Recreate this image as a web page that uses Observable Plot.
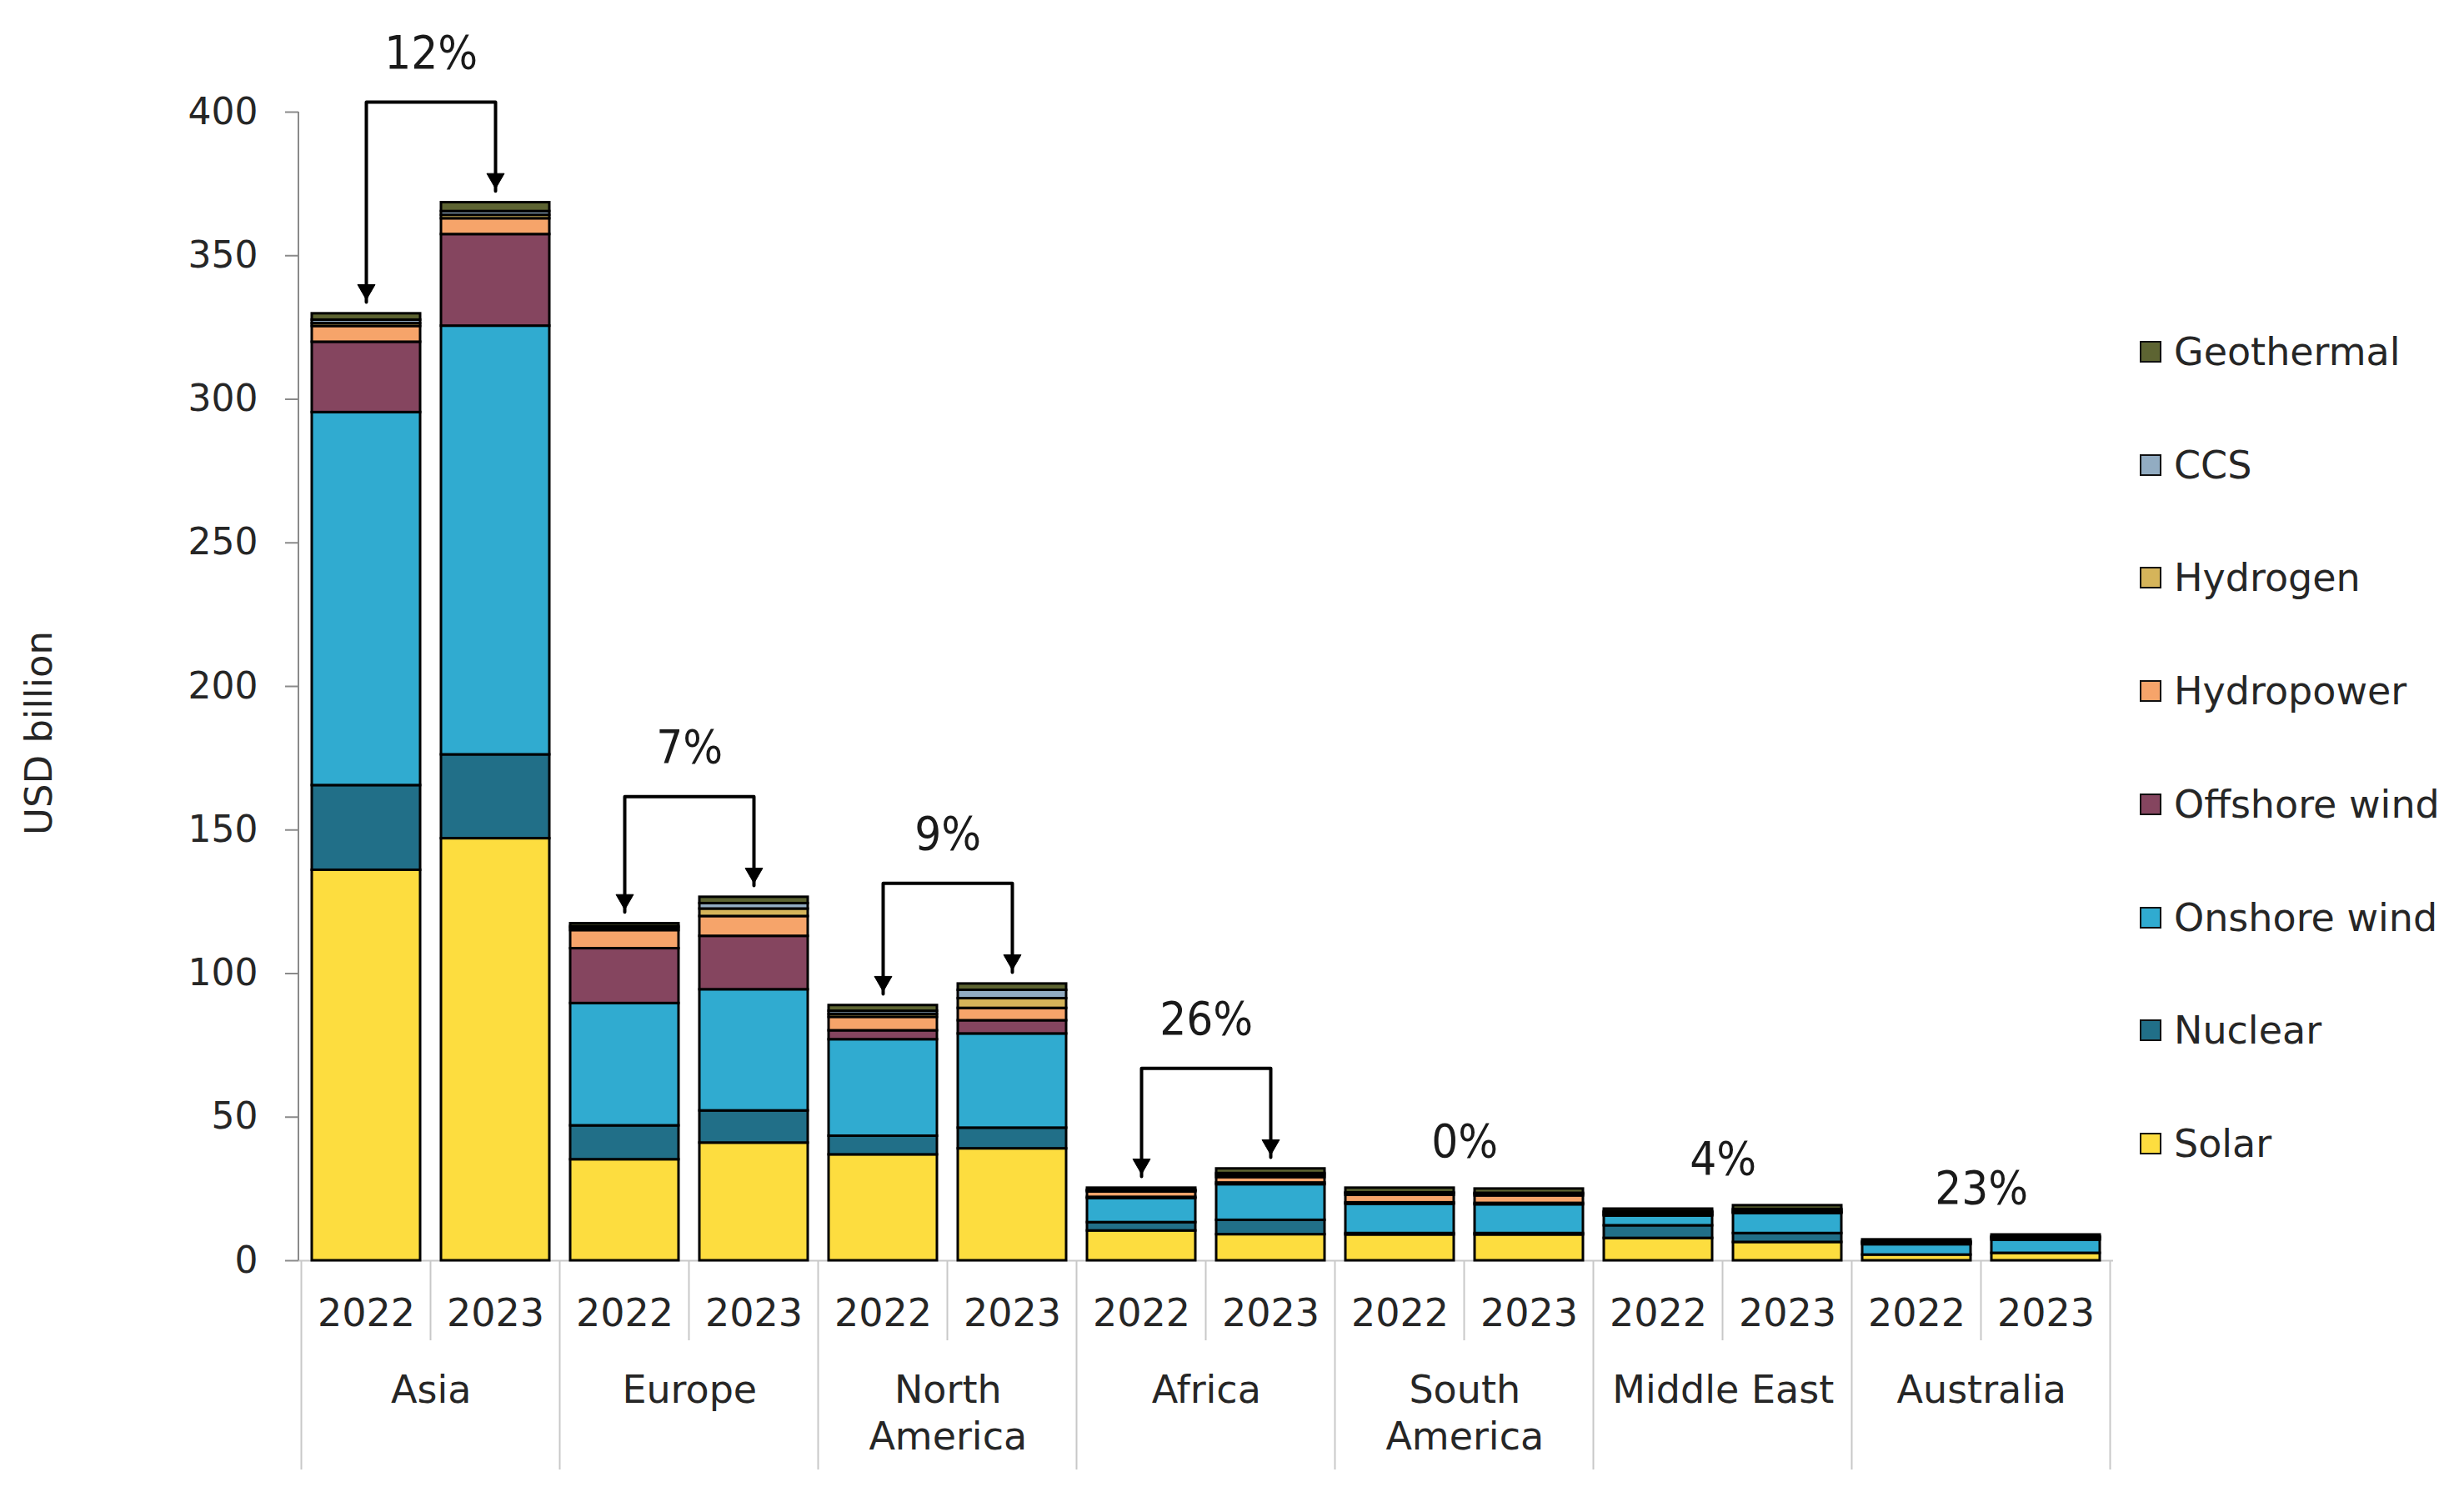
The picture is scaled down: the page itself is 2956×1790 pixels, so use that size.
<!DOCTYPE html>
<html><head><meta charset="utf-8">
<script src="https://cdn.jsdelivr.net/npm/d3@7"></script>
<script src="https://cdn.jsdelivr.net/npm/@observablehq/plot@0.6"></script>
<style>
html,body{margin:0;padding:0;background:#fff;}
#wrap{position:relative;width:2956px;height:1790px;font-family:"DejaVu Sans",sans-serif;color:#262626;}
#legend{position:absolute;left:2567px;top:0;}
.item{position:absolute;left:0;display:flex;align-items:center;white-space:nowrap;font-size:46px;transform:translateY(-50%);}
.sw{width:22px;height:22px;border:2.5px solid #111;margin-right:15px;}
</style></head><body>
<div id="wrap"><div id="chart"></div><div id="legend"></div></div>
<script>
// ---------------- data ----------------
const regions = ["Asia", "Europe", "North America", "Africa", "South America", "Middle East", "Australia"];
const regionLabels = ["Asia", "Europe", "North\nAmerica", "Africa", "South\nAmerica", "Middle East", "Australia"];
const years = ["2022", "2023"];
const techs = ["Solar", "Nuclear", "Onshore wind", "Offshore wind", "Hydropower", "Hydrogen", "CCS", "Geothermal"];
const techColors = ["#fddd3f", "#216f88", "#30abd0", "#85455f", "#f6a46a", "#d5b45a", "#92acc2", "#5d6432"];
// order: Asia22, Asia23, Europe22, Europe23, NAm22, NAm23, Africa22, Africa23, SAm22, SAm23, ME22, ME23, Aus22, Aus23
const solar    = [136.0, 147.0, 35.2, 41.0, 36.9, 39.0, 10.4, 9.1, 9.0, 9.0, 7.8, 6.4, 2.0, 2.6];
const nuclear  = [29.5, 29.2, 11.8, 11.2, 6.5, 7.2, 2.9, 5.0, 0.5, 0.5, 4.4, 3.1, 0, 0];
const onshore  = [129.9, 149.3, 42.6, 42.2, 33.6, 32.8, 8.4, 12.4, 10.2, 10.0, 3.4, 7.0, 3.6, 4.6];
const offshore = [24.5, 31.9, 19.1, 18.6, 3.1, 4.6, 0.4, 0.6, 0.5, 0.5, 0.3, 0.2, 0, 0];
const hydro    = [5.5, 5.5, 6.3, 6.9, 4.7, 4.3, 1.9, 1.9, 2.6, 2.6, 0.4, 0.3, 0.4, 0.4];
const hydrogen = [1.0, 1.2, 0.8, 2.6, 1.0, 3.4, 0.3, 0.8, 0.6, 0.6, 0.5, 0.5, 0.4, 0.5];
const ccs      = [1.2, 1.3, 0.6, 1.9, 1.1, 2.9, 0.3, 0.6, 0.3, 0.3, 0.3, 0.4, 0.2, 0.2];
const geo      = [2.2, 3.1, 1.0, 2.2, 2.0, 2.2, 0.7, 1.6, 1.6, 1.5, 0.9, 1.3, 0.7, 0.7];
const growthLabels = ["12%", "7%", "9%", "26%", "0%", "4%", "23%"];
const hasArrow = [true, true, true, true, false, false, false];
const yTicks = [0, 50, 100, 150, 200, 250, 300, 350, 400];

// ---------------- build ----------------
const series = [solar, nuclear, onshore, offshore, hydro, hydrogen, ccs, geo];
const bars = [];
regions.forEach((r, i) => years.forEach((y, j) => bars.push({key: r + "|" + y, region: r, year: y, idx: 2 * i + j})));
const keys = bars.map(d => d.key);
const rows = [];
bars.forEach(b => techs.forEach((t, ti) => rows.push({key: b.key, tech: t, value: series[ti][b.idx]})));
const totals = bars.map(b => d3.sum(series, s => s[b.idx]));

const W = 2956, H = 1790, ML = 358, MR = 421, MT = 134, MB = 278;
const step = (W - ML - MR) / keys.length;

const annots = regions.map((r, i) => {
  const t0 = totals[2 * i], t1 = totals[2 * i + 1];
  const top = Math.max(t0, t1);
  const bracket = top + 35;
  return {region: r, k0: keys[2 * i], k1: keys[2 * i + 1], t0, t1, bracket,
          label: growthLabels[i], arrow: hasArrow[i], labelY: hasArrow[i] ? bracket + 17 : top + 16};
});
const arrowPts = [], tips = [];
annots.filter(a => a.arrow).forEach(a => {
  arrowPts.push({region: a.region, x: a.k0, y: a.t0 + 4});
  arrowPts.push({region: a.region, x: a.k0, y: a.bracket});
  arrowPts.push({region: a.region, x: a.k1, y: a.bracket});
  arrowPts.push({region: a.region, x: a.k1, y: a.t1 + 4});
  tips.push({x: a.k0, y: a.t0 + 4});
  tips.push({x: a.k1, y: a.t1 + 4});
});

const chart = Plot.plot({
  width: W, height: H,
  marginLeft: ML, marginRight: MR, marginTop: MT, marginBottom: MB,
  style: {fontSize: "44px", fontFamily: "'DejaVu Sans', sans-serif", color: "#262626", background: "#fff", overflow: "visible"},
  x: {type: "band", domain: keys, paddingInner: 0.164, paddingOuter: 0.082, axis: null},
  y: {domain: [0, 400], ticks: yTicks, tickSize: 16, tickPadding: 33, label: null, tickFormat: d => String(d)},
  color: {domain: techs, range: techColors},
  marks: [
    Plot.ruleY([0], {stroke: "#c8c8c8", strokeWidth: 2}),
    Plot.barY(rows, {x: "key", y: "value", fill: "tech", stroke: "#000", strokeWidth: 3}),
    Plot.line(arrowPts, {x: "x", y: "y", z: "region", stroke: "#000", strokeWidth: 4, curve: "linear"}),
    Plot.dot(tips, {x: "x", y: "y", symbol: "triangle2", r: 10, rotate: 180, fill: "#000", stroke: "#000", strokeWidth: 1, dy: -15}),
    Plot.text(annots, {x: "k0", y: "labelY", text: "label", dx: step / 2, fontSize: 56,
      fontFamily: "'Liberation Sans Narrow', 'DejaVu Sans Condensed', sans-serif", fill: "#1a1a1a"}),
    Plot.text(bars, {x: "key", text: "year", frameAnchor: "bottom", dy: 78, fontSize: 46, fill: "#262626"}),
    Plot.text(annots.map((a, i) => ({...a, name: regionLabels[i]})), {x: "k0", text: "name", dx: step / 2,
      frameAnchor: "bottom", lineAnchor: "top", dy: 131, lineHeight: 1.22, fontSize: 46, fill: "#262626"}),
    Plot.text(["USD billion"], {frameAnchor: "left", textAnchor: "middle", rotate: -90, dx: -311, dy: 56, fontSize: 45, fill: "#262626"})
  ]
});
document.getElementById("chart").appendChild(chart);

// axis line + category separators, positioned from the plot's own x scale
const xs = chart.scale("x");
const svg = d3.select(chart);
svg.selectAll('[aria-label="y-axis tick"] path, [aria-label="y-axis tick"]').attr("stroke", "#8a8a8a").attr("stroke-width", 2);
const sep = svg.append("g");
sep.append("line").attr("x1", ML).attr("x2", ML).attr("y1", MT).attr("y2", H - MB)
  .attr("stroke", "#8a8a8a").attr("stroke-width", 2);
const gap = (xs.step - xs.bandwidth) / 2;
keys.forEach((k, i) => {
  const xb = xs.apply(k) - gap;
  sep.append("line").attr("x1", xb).attr("x2", xb).attr("y1", H - MB)
    .attr("y2", i % 2 === 0 ? H - 27 : H - MB + 96)
    .attr("stroke", "#c8c8c8").attr("stroke-width", 2);
});
{
  const xe = xs.apply(keys[keys.length - 1]) + xs.bandwidth + gap;
  sep.append("line").attr("x1", xe).attr("x2", xe).attr("y1", H - MB).attr("y2", H - 27)
    .attr("stroke", "#c8c8c8").attr("stroke-width", 2);
}

// legend
const legendTop = 422, legendStep = 135.7;
const legendOrder = techs.slice().reverse();
const leg = document.getElementById("legend");
legendOrder.forEach((t, i) => {
  const it = document.createElement("div");
  it.className = "item";
  it.style.top = (legendTop + i * legendStep) + "px";
  const sw = document.createElement("div");
  sw.className = "sw";
  sw.style.background = techColors[techs.indexOf(t)];
  const tx = document.createElement("span");
  tx.textContent = t;
  it.appendChild(sw); it.appendChild(tx);
  leg.appendChild(it);
});
</script>
</body></html>
